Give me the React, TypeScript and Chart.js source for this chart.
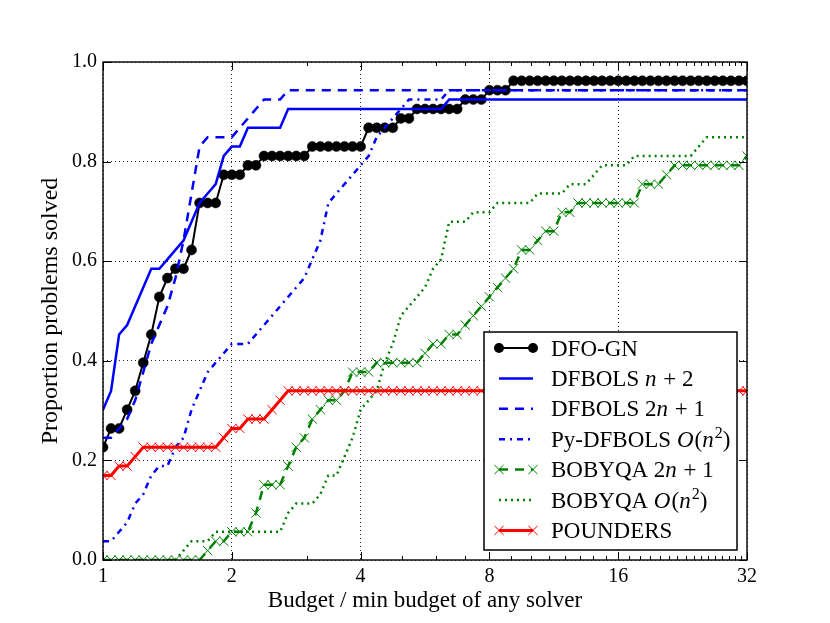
import React, { useEffect, useRef } from "react";
import { Chart, registerables } from "chart.js";

Chart.register(...registerables);

// Budget grid (in units of the minimum budget of any solver)
const budgets = [
  1, 1.0443, 1.0905, 1.1388, 1.1892, 1.2419, 1.2968, 1.3543, 1.4142, 1.4768, 1.5422, 1.6105, 1.6818, 1.7563, 1.834, 1.9152,
  2, 2.0885, 2.181, 2.2776, 2.3784, 2.4837, 2.5937, 2.7085, 2.8284, 2.9537, 3.0844, 3.221, 3.3636, 3.5125, 3.668, 3.8304,
  4, 4.1771, 4.362, 4.5552, 4.7568, 4.9674, 5.1874, 5.417, 5.6569, 5.9073, 6.1688, 6.442, 6.7272, 7.025, 7.336, 7.6608,
  8, 8.3542, 8.7241, 9.1103, 9.5137, 9.9349, 10.3747, 10.8341, 11.3137, 11.8146, 12.3377, 12.8839, 13.4543, 14.05, 14.6721, 15.3217,
  16, 16.7083, 17.4482, 18.2206, 19.0274, 19.8698, 20.7494, 21.6682, 22.6274, 23.6293, 24.6754, 25.7678, 26.9086, 28.1, 29.3442, 30.6434,
  32,
];

const N_PROBLEMS = 53;

// Number of problems solved at each budget
const solvedDfoGn = [
  12, 14, 14, 16, 18, 21, 24, 28, 30, 31, 31, 33, 38, 38, 38, 41,
  41, 41, 42, 42, 43, 43, 43, 43, 43, 43, 44, 44, 44, 44, 44, 44,
  44, 46, 46, 46, 46, 47, 47, 48, 48, 48, 48, 48, 48, 49, 49, 49,
  50, 50, 50, 51, 51, 51, 51, 51, 51, 51, 51, 51, 51, 51, 51, 51,
  51, 51, 51, 51, 51, 51, 51, 51, 51, 51, 51, 51, 51, 51, 51, 51,
  51,
];
const solvedDfbolsN2 = [
  16, 18, 24, 25, 27, 29, 31, 31, 32, 33, 34, 36, 38, 39, 40, 43,
  44, 44, 46, 46, 46, 46, 46, 48, 48, 48, 48, 48, 48, 48, 48, 48,
  48, 48, 48, 48, 48, 48, 48, 48, 48, 48, 48, 49, 49, 49, 49, 49,
  49, 49, 49, 49, 49, 49, 49, 49, 49, 49, 49, 49, 49, 49, 49, 49,
  49, 49, 49, 49, 49, 49, 49, 49, 49, 49, 49, 49, 49, 49, 49, 49,
  49,
];
const solvedDfbols2n1 = [
  13, 13, 14, 15, 17, 20, 23, 25, 27, 30, 34, 39, 44, 45, 45, 45,
  45, 46, 47, 48, 49, 49, 49, 50, 50, 50, 50, 50, 50, 50, 50, 50,
  50, 50, 50, 50, 50, 50, 50, 50, 50, 50, 50, 50, 50, 50, 50, 50,
  50, 50, 50, 50, 50, 50, 50, 50, 50, 50, 50, 50, 50, 50, 50, 50,
  50, 50, 50, 50, 50, 50, 50, 50, 50, 50, 50, 50, 50, 50, 50, 50,
  50,
];
const solvedPyDfbols = [
  2, 2, 3, 4, 6, 7, 9, 10, 10, 12, 13, 16, 18, 20, 21, 22,
  23, 23, 23, 24, 25, 26, 27, 28, 29, 30, 32, 34, 38, 39, 40, 41,
  42, 43, 45, 46, 47, 48, 49, 49, 49, 49, 49, 50, 50, 50, 50, 50,
  50, 50, 50, 50, 50, 50, 50, 50, 50, 50, 50, 50, 50, 50, 50, 50,
  50, 50, 50, 50, 50, 50, 50, 50, 50, 50, 50, 50, 50, 50, 50, 50,
  50,
];
const solvedBobyqa2n1 = [
  0, 0, 0, 0, 0, 0, 0, 0, 0, 0, 0, 0, 0, 1, 2, 2,
  3, 3, 3, 5, 8, 8, 8, 10, 12, 13, 15, 16, 17, 17, 18, 20,
  20, 20, 21, 21, 21, 21, 21, 21, 22, 23, 23, 24, 24, 25, 26, 27,
  28, 29, 30, 31, 33, 33, 34, 35, 35, 37, 37, 38, 38, 38, 38, 38,
  38, 38, 38, 40, 40, 40, 41, 42, 42, 42, 42, 42, 42, 42, 42, 42,
  43,
];
const solvedBobyqaOn2 = [
  0, 0, 0, 0, 0, 0, 0, 0, 0, 0, 1, 2, 2, 2, 3, 3,
  3, 3, 3, 3, 3, 3, 3, 5, 6, 6, 6, 7, 9, 9, 11, 13,
  16, 17, 18, 21, 23, 26, 27, 28, 29, 31, 32, 36, 36, 36, 37, 37,
  37, 38, 38, 38, 38, 38, 39, 39, 39, 39, 40, 40, 40, 41, 42, 42,
  42, 42, 43, 43, 43, 43, 43, 43, 43, 43, 44, 45, 45, 45, 45, 45,
  45,
];
const solvedPounders = [
  9, 9, 10, 10, 11, 12, 12, 12, 12, 12, 12, 12, 12, 12, 12, 13,
  14, 14, 15, 15, 15, 16, 17, 18, 18, 18, 18, 18, 18, 18, 18, 18,
  18, 18, 18, 18, 18, 18, 18, 18, 18, 18, 18, 18, 18, 18, 18, 18,
  18, 18, 18, 18, 18, 18, 18, 18, 18, 18, 18, 18, 18, 18, 18, 18,
  18, 18, 18, 18, 18, 18, 18, 18, 18, 18, 18, 18, 18, 18, 18, 18,
  18,
];

const xMajorTicks = [1, 2, 4, 8, 16, 32];
const xMinorTicks = [3, 5, 6, 7, 9, 10, 11, 12, 13, 14, 15, 17, 18, 19, 20, 21, 22, 23, 24, 25, 26, 27, 28, 29, 30, 31];

type Seg = { t: string; i?: boolean; sup?: boolean };
const legendLabels: Seg[][] = [
  [{ t: "DFO-GN" }],
  [{ t: "DFBOLS " }, { t: "n", i: true }, { t: " + 2" }],
  [{ t: "DFBOLS 2" }, { t: "n", i: true }, { t: " + 1" }],
  [{ t: "Py-DFBOLS " }, { t: "O", i: true }, { t: "(" }, { t: "n", i: true }, { t: "2", sup: true }, { t: ")" }],
  [{ t: "BOBYQA 2" }, { t: "n", i: true }, { t: " + 1" }],
  [{ t: "BOBYQA " }, { t: "O", i: true }, { t: "(" }, { t: "n", i: true }, { t: "2", sup: true }, { t: ")" }],
  [{ t: "POUNDERS" }],
];

const FONT = "'Liberation Serif', 'Times New Roman', serif";

function drawMarker(ctx: CanvasRenderingContext2D, style: string, x: number, y: number, r: number, color: string, bw: number) {
  ctx.save();
  ctx.setLineDash([]);
  if (style === "circle") {
    ctx.fillStyle = color;
    ctx.beginPath();
    ctx.arc(x, y, r, 0, Math.PI * 2);
    ctx.fill();
  } else if (style === "crossRot") {
    const d = r * Math.SQRT1_2;
    ctx.strokeStyle = color;
    ctx.lineWidth = bw;
    ctx.beginPath();
    ctx.moveTo(x - d, y - d);
    ctx.lineTo(x + d, y + d);
    ctx.moveTo(x + d, y - d);
    ctx.lineTo(x - d, y + d);
    ctx.stroke();
  }
  ctx.restore();
}

const framePlugin = {
  id: "frame",
  afterDatasetsDraw(chart: any) {
    const { ctx, chartArea: a, scales } = chart;
    const xs = scales.x;
    const ys = scales.y;
    ctx.save();
    ctx.setLineDash([]);
    ctx.strokeStyle = "#000";
    ctx.lineWidth = 1;
    ctx.beginPath();
    const seg = (x1: number, y1: number, x2: number, y2: number) => {
      ctx.moveTo(x1, y1);
      ctx.lineTo(x2, y2);
    };
    xMajorTicks.forEach((v) => {
      const px = Math.round(xs.getPixelForValue(v)) + 0.5;
      seg(px, a.bottom, px, a.bottom - 8);
      seg(px, a.top, px, a.top + 8);
    });
    xMinorTicks.forEach((v) => {
      const px = Math.round(xs.getPixelForValue(v)) + 0.5;
      seg(px, a.bottom, px, a.bottom - 4);
      seg(px, a.top, px, a.top + 4);
    });
    ys.ticks.forEach((t: any) => {
      const py = Math.round(ys.getPixelForValue(t.value)) + 0.5;
      seg(a.left, py, a.left + 8, py);
      seg(a.right, py, a.right - 8, py);
    });
    ctx.stroke();
    ctx.lineWidth = 1.4;
    ctx.strokeRect(a.left, a.top, a.right - a.left, a.bottom - a.top);
    ctx.restore();
  },
};

const legendPlugin = {
  id: "richLegend",
  afterDraw(chart: any) {
    const { ctx, chartArea: a } = chart;
    const boxW = 253;
    const boxH = 218;
    const x0 = a.right - 10 - boxW;
    const y0 = a.bottom - 10 - boxH;
    ctx.save();
    ctx.setLineDash([]);
    ctx.fillStyle = "#fff";
    ctx.fillRect(x0, y0, boxW, boxH);
    ctx.strokeStyle = "#000";
    ctx.lineWidth = 1.5;
    ctx.strokeRect(x0, y0, boxW, boxH);
    chart.data.datasets.forEach((ds: any, i: number) => {
      const cy = y0 + 16 + i * 30.4;
      const lx1 = x0 + 15;
      const lx2 = x0 + 49;
      ctx.save();
      ctx.strokeStyle = ds.borderColor;
      ctx.lineWidth = ds.borderWidth;
      ctx.setLineDash(ds.borderDash || []);
      ctx.beginPath();
      ctx.moveTo(lx1, cy);
      ctx.lineTo(lx2, cy);
      ctx.stroke();
      ctx.restore();
      if (ds.pointRadius > 0) {
        drawMarker(ctx, ds.pointStyle, lx1, cy, ds.pointRadius, ds.pointBorderColor, ds.pointBorderWidth);
        drawMarker(ctx, ds.pointStyle, lx2, cy, ds.pointRadius, ds.pointBorderColor, ds.pointBorderWidth);
      }
      let tx = x0 + 67;
      const base = cy + 7.5;
      ctx.fillStyle = "#000";
      ctx.textBaseline = "alphabetic";
      ctx.textAlign = "left";
      for (const s of legendLabels[i]) {
        const size = s.sup ? 16 : 23;
        ctx.font = `${s.i ? "italic " : ""}${size}px ${FONT}`;
        ctx.fillText(s.t, tx, s.sup ? base - 9 : base);
        tx += ctx.measureText(s.t).width + (s.i ? 1 : 0);
      }
    });
    ctx.restore();
  },
};

export default function App() {
  const ref = useRef<HTMLCanvasElement>(null);
  useEffect(() => {
    document.body.style.margin = "0";
    const toPts = (c: number[]) => c.map((v, i) => ({ x: budgets[i], y: v / N_PROBLEMS }));
    const BLUE = "#0000ff";
    const GREEN = "#008000";
    const RED = "#ff0000";
    const series = [
      { label: "DFO-GN", data: toPts(solvedDfoGn), borderColor: "#000", borderWidth: 2, borderDash: [], pointStyle: "circle", pointRadius: 5, pointBackgroundColor: "#000", pointBorderColor: "#000", pointBorderWidth: 0.5 },
      { label: "DFBOLS n+2", data: toPts(solvedDfbolsN2), borderColor: BLUE, borderWidth: 2.5, borderDash: [], pointStyle: "circle", pointRadius: 0, pointBorderColor: BLUE, pointBorderWidth: 0 },
      { label: "DFBOLS 2n+1", data: toPts(solvedDfbols2n1), borderColor: BLUE, borderWidth: 2.5, borderDash: [9, 7], pointStyle: "circle", pointRadius: 0, pointBorderColor: BLUE, pointBorderWidth: 0 },
      { label: "Py-DFBOLS O(n^2)", data: toPts(solvedPyDfbols), borderColor: BLUE, borderWidth: 2.5, borderDash: [6, 5, 2, 5], pointStyle: "circle", pointRadius: 0, pointBorderColor: BLUE, pointBorderWidth: 0 },
      { label: "BOBYQA 2n+1", data: toPts(solvedBobyqa2n1), borderColor: GREEN, borderWidth: 2.5, borderDash: [9, 7], pointStyle: "crossRot", pointRadius: 6.5, pointBackgroundColor: GREEN, pointBorderColor: GREEN, pointBorderWidth: 1 },
      { label: "BOBYQA O(n^2)", data: toPts(solvedBobyqaOn2), borderColor: GREEN, borderWidth: 2.5, borderDash: [2, 4], pointStyle: "circle", pointRadius: 0, pointBorderColor: GREEN, pointBorderWidth: 0 },
      { label: "POUNDERS", data: toPts(solvedPounders), borderColor: RED, borderWidth: 3, borderDash: [], pointStyle: "crossRot", pointRadius: 6.5, pointBackgroundColor: RED, pointBorderColor: RED, pointBorderWidth: 1 },
    ];
    const datasets = series.map((s, i) => ({
      ...s,
      order: series.length - i,
      fill: false,
      tension: 0,
      clip: 0,
      pointHoverRadius: s.pointRadius,
    }));
    const chart = new Chart(ref.current!, {
      type: "line",
      data: { datasets: datasets as any },
      plugins: [framePlugin, legendPlugin],
      options: {
        animation: false,
        responsive: false,
        events: [],
        layout: { padding: { top: 62, right: 83, left: 0, bottom: 0 } },
        plugins: { legend: { display: false }, tooltip: { enabled: false } },
        scales: {
          x: {
            type: "logarithmic",
            min: 1,
            max: 32,
            afterBuildTicks: (scale: any) => {
              scale.ticks = xMajorTicks.map((v) => ({ value: v }));
            },
            afterFit: (scale: any) => {
              scale.height = 63;
            },
            ticks: {
              autoSkip: false,
              maxRotation: 0,
              padding: 5,
              color: "#000",
              font: { family: FONT, size: 20 },
              callback: (v: any) => String(v),
            },
            grid: { color: "rgba(0,0,0,0.85)", lineWidth: 1, drawTicks: false },
            border: { display: false, dash: [1, 3] },
            title: {
              display: true,
              text: "Budget / min budget of any solver",
              color: "#000",
              font: { family: FONT, size: 23 },
              padding: { top: 0, bottom: 8 },
            },
          },
          y: {
            type: "linear",
            min: 0,
            max: 1,
            afterFit: (scale: any) => {
              scale.width = 103;
            },
            ticks: {
              stepSize: 0.2,
              padding: 6,
              color: "#000",
              font: { family: FONT, size: 20 },
              callback: (v: any) => Number(v).toFixed(1),
            },
            grid: { color: "rgba(0,0,0,0.85)", lineWidth: 1, drawTicks: false },
            border: { display: false, dash: [1, 3] },
            title: {
              display: true,
              text: "Proportion problems solved",
              color: "#000",
              font: { family: FONT, size: 24 },
              padding: { top: 36, bottom: 0 },
            },
          },
        },
      } as any,
    });
    return () => chart.destroy();
  }, []);
  return (
    <div style={{ width: 830, height: 623 }}>
      <canvas ref={ref} width={830} height={623} />
    </div>
  );
}
